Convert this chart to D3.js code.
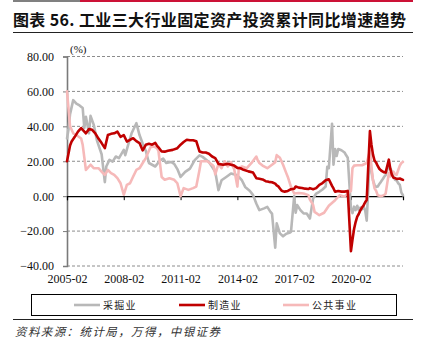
<!DOCTYPE html>
<html><head><meta charset="utf-8">
<script src="https://cdn.jsdelivr.net/npm/d3@7/dist/d3.min.js"></script>
<style>
html,body{margin:0;padding:0;background:#fff;}
svg{display:block;}
</style></head>
<body>
<svg id="chart" width="423" height="351"></svg>
<script>
// ---------- data ----------
const title = "图表 56. 工业三大行业固定资产投资累计同比增速趋势";
const source = "资料来源：统计局，万得，中银证券";
const seriesNames = ["采掘业", "制造业", "公共事业"];
const seriesColors = ["#b8b8b8", "#c00000", "#f6b9b9"];
const yTicks = [-40, -20, 0, 20, 40, 60, 80];
const xTickLabels = ["2005-02", "2008-02", "2011-02", "2014-02", "2017-02", "2020-02"];
const xDomain = ["2005-02", "2022-11"];

const mining = [
["2005-02",33],["2005-03",38],["2005-04",47],["2005-06",55],["2005-08",53],["2005-10",52],["2005-12",50.5],
["2006-01",39],["2006-02",45.5],["2006-04",36],["2006-05",46],["2006-07",41],["2006-09",32],["2006-12",24],
["2007-02",8],["2007-03",17],["2007-05",20.8],["2007-07",19.8],["2007-09",22.7],["2007-11",21.8],
["2008-02",26.5],["2008-03",23.5],["2008-05",30],["2008-07",36],["2008-10",41.8],["2008-12",35],
["2009-02",30],["2009-04",26],["2009-06",19],["2009-10",17],["2010-01",20.5],["2010-03",21.5],["2010-05",19],
["2010-08",19.6],["2010-10",18.5],["2010-12",15.5],["2011-02",11],["2011-05",13.9],["2011-08",15.8],
["2011-11",20.6],["2012-02",23.4],["2012-04",22.5],["2012-08",19.6],["2012-10",16.8],["2012-12",14],
["2013-02",3.4],["2013-04",9.1],["2013-07",11],["2013-10",13],["2014-02",12],["2014-03",11],["2014-05",9],
["2014-07",5.3],["2014-10",3],["2014-12",0.6],["2015-02",-4.2],["2015-04",-8],["2015-07",-7],["2015-09",-6.1],
["2015-11",-9],["2015-12",-10],["2016-02",-29.5],["2016-03",-15.6],["2016-05",-21.3],["2016-07",-23],
["2016-09",-21.5],["2016-11",-21],["2016-12",-20.5],["2017-02",0],["2017-03",-9.5],["2017-04",-5.1],
["2017-06",-8],["2017-08",-9.9],["2017-10",-9.9],["2017-12",-12.8],["2018-02",-1.3],["2018-04",1.5],
["2018-06",2.5],["2018-08",3.8],["2018-10",5.5],["2018-11",16.8],["2018-12",16],["2019-02",41.5],
["2019-03",18],["2019-04",27],["2019-05",23],["2019-06",27],["2019-08",26.3],["2019-10",25],["2019-11",23.4],
["2019-12",22],["2020-02",-7],["2020-03",-9.7],["2020-04",-6],["2020-05",-8],["2020-06",-5.5],["2020-07",-8],
["2020-08",-6.5],["2020-09",-7.5],["2020-10",-6],["2020-11",-8],["2020-12",-14],["2021-02",24.5],
["2021-03",15],["2021-04",9.1],["2021-05",6.4],["2021-06",5.3],["2021-07",5.5],["2021-08",7],["2021-09",8.2],
["2021-10",9.5],["2021-11",11],["2021-12",12],["2022-02",18],["2022-03",16],["2022-04",14],["2022-05",11],
["2022-06",9.4],["2022-07",9],["2022-08",7.4],["2022-09",6.4],["2022-10",2],["2022-11",0.5]
];

const manufacturing = [
["2005-02",20],["2005-04",29],["2005-05",31.3],["2005-07",34],["2005-09",37],["2005-11",39],
["2006-02",36],["2006-04",38.4],["2006-06",38],["2006-08",36],["2006-10",33],["2006-12",30.4],
["2007-02",27.5],["2007-04",35],["2007-06",35.7],["2007-08",36],["2007-10",37],["2007-12",34],
["2008-02",35],["2008-04",31.3],["2008-06",32.3],["2008-08",33.2],["2008-10",31.5],["2008-12",30.4],
["2009-02",26.2],["2009-04",29.4],["2009-06",30],["2009-08",29.5],["2009-10",30.5],["2009-11",29],["2009-12",28],
["2010-02",25.6],["2010-04",25.5],["2010-06",26],["2010-09",26.5],["2010-12",27.5],
["2011-02",29.5],["2011-04",31],["2011-06",32.3],["2011-08",32],["2011-10",32],["2011-12",31.5],
["2012-02",25.6],["2012-04",25],["2012-06",25],["2012-08",24.3],["2012-10",22.7],["2012-12",21.8],
["2013-02",18.5],["2013-05",18],["2013-08",18.5],["2013-10",18],["2013-12",17.5],
["2014-02",16.2],["2014-04",16],["2014-06",15.1],["2014-09",14.2],["2014-12",13.5],
["2015-02",10.3],["2015-04",10],["2015-06",9.6],["2015-08",8.6],["2015-10",8.2],["2015-12",8],
["2016-02",7.2],["2016-03",6.2],["2016-04",5.6],["2016-05",4.4],["2016-06",3.2],["2016-07",2.8],["2016-08",2.6],
["2016-10",3],["2016-12",4],["2017-02",4.3],["2017-03",5.5],["2017-05",4.9],["2017-07",4.7],["2017-09",4.3],
["2017-11",4.1],["2017-12",4.6],["2018-02",4],["2018-04",4.6],["2018-06",6.5],["2018-08",7.5],["2018-10",9.1],
["2018-12",9.7],["2019-02",5.9],["2019-03",4.4],["2019-04",2.5],["2019-06",3],["2019-08",2.6],["2019-10",2.6],
["2019-12",3],["2020-02",-31.5],["2020-03",-25],["2020-04",-18.8],["2020-05",-14.8],["2020-06",-11.7],
["2020-07",-10.2],["2020-08",-8.1],["2020-09",-6.5],["2020-10",-5.3],["2020-11",-3.5],["2020-12",-2.2],
["2021-02",37.3],["2021-03",29.8],["2021-04",23.8],["2021-05",20.4],["2021-06",19.2],["2021-07",17.3],
["2021-08",15.7],["2021-09",14.8],["2021-10",14.2],["2021-11",13.7],["2021-12",13.5],
["2022-02",20.9],["2022-03",15.6],["2022-04",12.2],["2022-05",10.6],["2022-06",10.4],["2022-07",9.9],
["2022-08",10],["2022-09",10.1],["2022-10",9.7],["2022-11",9.3]
];

const utilities = [
["2005-02",60],["2005-04",40],["2005-06",36],["2005-08",35],["2005-11",33],["2005-12",29.4],
["2006-02",15],["2006-05",18],["2006-07",16],["2006-10",16],["2006-12",14],
["2007-02",12.2],["2007-04",15],["2007-06",13.2],["2007-08",12.2],["2007-10",10.3],["2007-12",7.4],
["2008-02",0.8],["2008-04",6.5],["2008-06",7.4],["2008-08",11.3],["2008-10",15],["2008-12",16],
["2009-02",19],["2009-04",21.8],["2009-05",24],["2009-07",28],["2009-09",28.5],["2009-11",27.5],["2009-12",26],
["2010-02",11],["2010-04",9.4],["2010-07",10.3],["2010-10",9.4],["2010-12",7.4],
["2011-02",0],["2011-04",4.6],["2011-07",3.6],["2011-10",4.6],["2011-12",5.5],
["2012-02",15],["2012-03",20],["2012-07",20],["2012-10",18],["2012-11",17],["2012-12",12.5],
["2013-02",18.5],["2013-04",16],["2013-06",20],["2013-08",17],["2013-10",19.5],["2013-12",15.5],
["2014-02",5.5],["2014-03",16],["2014-05",17],["2014-08",16],["2014-11",19],
["2015-02",22.7],["2015-03",20.5],["2015-04",19],["2015-06",17.5],["2015-09",16],["2015-12",18],
["2016-02",19.5],["2016-03",23.5],["2016-05",22],["2016-07",18],["2016-09",13.2],["2016-10",11],["2016-12",5.3],
["2017-02",1.5],["2017-05",1.8],["2017-08",1.5],["2017-11",0.6],["2017-12",-2],
["2018-02",-5],["2018-03",-9],["2018-06",-10.9],["2018-09",-9.5],["2018-12",-5.5],
["2019-04",-2.3],["2019-07",0.6],["2019-10",-0.3],["2019-12",1.5],
["2020-02",3],["2020-03",16],["2020-04",17.5],["2020-06",17.7],["2020-09",17.7],["2020-12",19],
["2021-02",26],["2021-03",17],["2021-04",9.1],["2021-05",4.5],["2021-06",3],["2021-07",0.5],["2021-09",0],
["2021-11",0.6],["2021-12",1.5],["2022-02",13.2],["2022-03",11.3],["2022-04",13],["2022-05",14],
["2022-06",12.5],["2022-07",12.2],["2022-08",15],["2022-09",17.5],["2022-10",19],["2022-11",19.6]
];

// ---------- drawing ----------
const parse = d3.timeParse("%Y-%m");
const svg = d3.select("#chart");
const W = 423, H = 351;
svg.append("rect").attr("width", W).attr("height", H).attr("fill", "#fff");

// top decorative bars
svg.append("rect").attr("x", 13).attr("y", 0).attr("width", 67).attr("height", 2).attr("fill", "#808080");
svg.append("rect").attr("x", 80).attr("y", 0).attr("width", 333).attr("height", 2).attr("fill", "#cc1236");

// title
svg.append("text").attr("x", 13).attr("y", 26)
  .attr("font-family", "'Noto Sans CJK SC', sans-serif").attr("font-weight", "bold")
  .attr("font-size", 16).attr("fill", "#111")
  .attr("textLength", 393).attr("lengthAdjust", "spacing")
  .text(title);
svg.append("line").attr("x1", 13).attr("x2", 413).attr("y1", 32.5).attr("y2", 32.5)
  .attr("stroke", "#222").attr("stroke-width", 1);

const x = d3.scaleTime().domain(xDomain.map(parse)).range([67, 403]);
const y = d3.scaleLinear().domain([-40, 80]).range([266, 56.5]);

const serif = "'Liberation Serif', 'Times New Roman', serif";

// gridlines
svg.append("g").selectAll("line").data(yTicks.filter(v => v !== 0)).join("line")
  .attr("x1", 67).attr("x2", 403).attr("y1", d => y(d)).attr("y2", d => y(d))
  .attr("stroke", "#8c8c8c").attr("stroke-width", 1).attr("stroke-dasharray", "3,2");

// y axis
const yAxis = svg.append("g").attr("transform", "translate(67,0)")
  .call(d3.axisLeft(y).tickValues(yTicks).tickFormat(d => d3.format(".2f")(d)).tickSize(4).tickPadding(9));
yAxis.select(".domain").attr("stroke", "#7a7a7a").attr("stroke-width", 1.6);
yAxis.selectAll(".tick line").attr("stroke", "#7a7a7a");
yAxis.selectAll("text").attr("font-family", serif).attr("font-size", 12).attr("fill", "#111");

// zero axis with ticks
const xTickDates = xTickLabels.map(parse);
const xAxis0 = svg.append("g").attr("transform", `translate(0,${y(0)})`)
  .call(d3.axisBottom(x).tickValues(xTickDates).tickSize(4).tickFormat(""));
xAxis0.select(".domain").attr("stroke", "#000").attr("stroke-width", 1.2);
xAxis0.selectAll(".tick line").attr("stroke", "#000");

// x labels at bottom
const xAxisB = svg.append("g").attr("transform", `translate(0,${y(-40)})`)
  .call(d3.axisBottom(x).tickValues(xTickDates).tickSize(0).tickPadding(8)
    .tickFormat((d, i) => xTickLabels[i]));
xAxisB.select(".domain").remove();
xAxisB.selectAll("text").attr("font-family", serif).attr("font-size", 12).attr("fill", "#111");

// unit label
svg.append("text").attr("x", 70).attr("y", 53).attr("font-family", serif).attr("font-size", 11)
  .attr("fill", "#111").text("(%)");

// lines
const line = d3.line().x(d => x(parse(d[0]))).y(d => y(d[1]));
const allSeries = [mining, manufacturing, utilities];
const drawOrder = [0, 2, 1];
drawOrder.forEach(i => {
  svg.append("path").datum(allSeries[i]).attr("d", line)
    .attr("fill", "none").attr("stroke", seriesColors[i]).attr("stroke-width", 2.6)
    .attr("stroke-linejoin", "round").attr("stroke-linecap", "round");
});

// legend
svg.append("rect").attr("x", 31.5).attr("y", 294.5).attr("width", 365).attr("height", 21)
  .attr("fill", "#fff").attr("stroke", "#000").attr("stroke-width", 1);
const legX = [74, 179, 283];
seriesNames.forEach((n, i) => {
  svg.append("line").attr("x1", legX[i]).attr("x2", legX[i] + 26).attr("y1", 305).attr("y2", 305)
    .attr("stroke", seriesColors[i]).attr("stroke-width", 2.6);
  svg.append("text").attr("x", legX[i] + 29).attr("y", 309)
    .attr("font-family", "'Noto Sans CJK SC', sans-serif").attr("font-size", 10)
    .attr("letter-spacing", 1.3).attr("fill", "#222").text(n);
});

// bottom rule & source
svg.append("line").attr("x1", 13).attr("x2", 413).attr("y1", 319.5).attr("y2", 319.5)
  .attr("stroke", "#222").attr("stroke-width", 1);
svg.append("text").attr("x", 15).attr("y", 335.5)
  .attr("font-family", "'Noto Sans CJK SC', sans-serif").attr("font-size", 11.5)
  .attr("font-style", "italic").attr("fill", "#333")
  .attr("textLength", 205).attr("lengthAdjust", "spacing")
  .text(source);
</script>
</body></html>
